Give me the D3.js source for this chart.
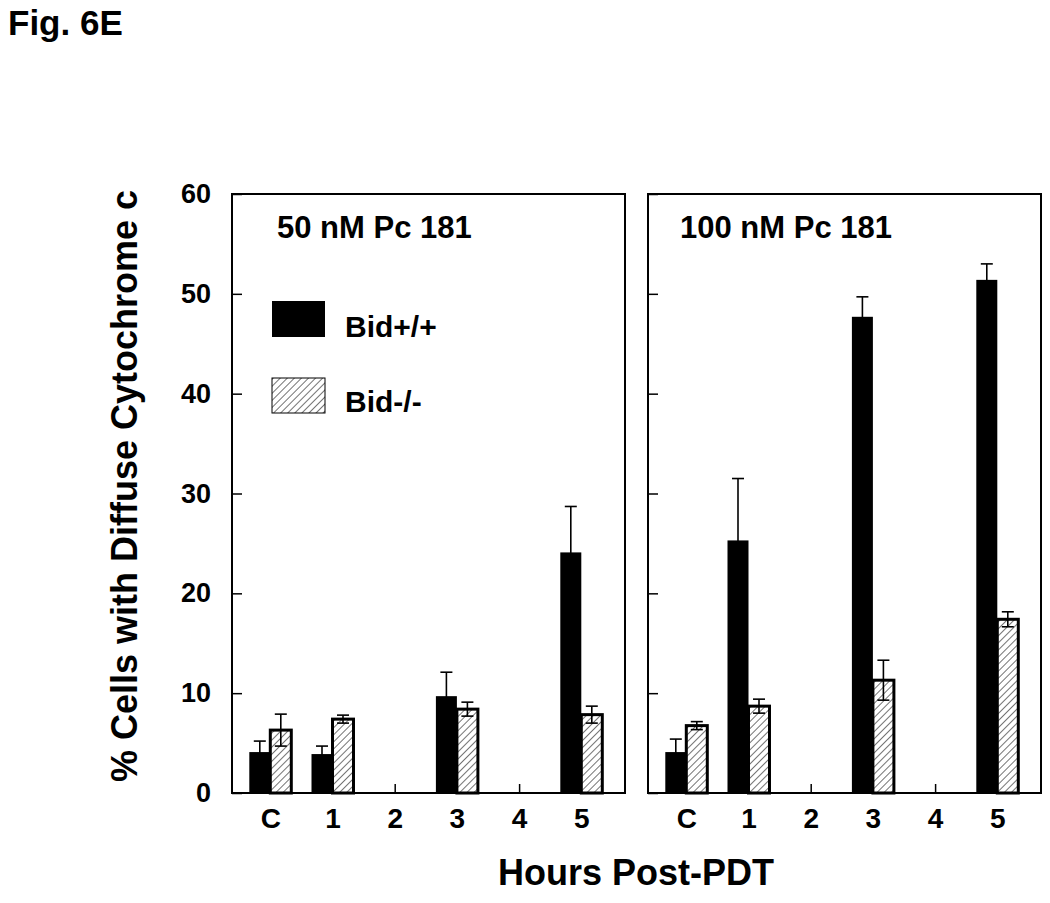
<!DOCTYPE html>
<html>
<head>
<meta charset="utf-8">
<script src="https://cdn.jsdelivr.net/npm/d3@7"></script>
<style>
  html, body { margin: 0; padding: 0; background: #fff; }
  svg { display: block; }
  text { font-family: Arial, "Liberation Sans", Helvetica, sans-serif; font-weight: bold; fill: #000; }
</style>
</head>
<body>
<svg id="chart" width="1050" height="903"></svg>
<script>
// ---- data ----
const categories = ["C", "1", "2", "3", "4", "5"];
const yTicks = [0, 10, 20, 30, 40, 50, 60];
const seriesNames = ["Bid+/+", "Bid-/-"];
const panelTitles = ["50 nM Pc 181", "100 nM Pc 181"];

const wt50 = [4.1, 3.9, null, 9.7, null, 24.1];
const wt50Err = [1.1, 0.8, null, 2.4, null, 4.6];
const ko50 = [6.3, 7.4, null, 8.4, null, 7.85];
const ko50Err = [1.6, 0.4, null, 0.7, null, 0.85];

const wt100 = [4.1, 25.3, null, 47.7, null, 51.4];
const wt100Err = [1.3, 6.2, null, 2.0, null, 1.6];
const ko100 = [6.75, 8.7, null, 11.3, null, 17.4];
const ko100Err = [0.4, 0.7, null, 2.0, null, 0.75];

const panels = [
  { title: panelTitles[0], wt: wt50, wtErr: wt50Err, ko: ko50, koErr: ko50Err, x0: 232, showLabels: true, legend: true },
  { title: panelTitles[1], wt: wt100, wtErr: wt100Err, ko: ko100, koErr: ko100Err, x0: 648, showLabels: false, legend: false }
];

// ---- layout ----
const svg = d3.select("#chart");
const panelW = 393;
const yTop = 194, yBot = 793;
const barW = 21;

const defs = svg.append("defs");
const pat = defs.append("pattern")
  .attr("id", "hatch")
  .attr("patternUnits", "userSpaceOnUse")
  .attr("width", 5).attr("height", 5)
  .attr("patternTransform", "rotate(45)");
pat.append("rect").attr("width", 5).attr("height", 5).attr("fill", "#fff");
pat.append("line").attr("x1", 0).attr("y1", 0).attr("x2", 0).attr("y2", 5)
  .attr("stroke", "#000").attr("stroke-width", 1.1);

const y = d3.scaleLinear().domain([0, 60]).range([yBot, yTop]);

svg.append("text").attr("x", 8).attr("y", 35).attr("font-size", 35).text("Fig. 6E");

panels.forEach(p => {
  const x = d3.scalePoint().domain(categories).range([p.x0 + 38.3, p.x0 + 349.3]);
  const g = svg.append("g");

  // frame
  g.append("rect").attr("x", p.x0).attr("y", yTop).attr("width", panelW).attr("height", yBot - yTop)
    .attr("fill", "none").attr("stroke", "#000").attr("stroke-width", 2);

  // y axis (ticks inward)
  const yAxis = d3.axisLeft(y).tickValues(yTicks).tickSize(-10).tickPadding(21)
    .tickFormat(p.showLabels ? d3.format("d") : () => "");
  const ya = g.append("g").attr("transform", `translate(${p.x0},0)`).call(yAxis);
  ya.select(".domain").remove();
  ya.selectAll("line").attr("stroke-width", 1.5);
  ya.selectAll("text").attr("font-size", 27).attr("font-family", null).attr("fill", "#000");

  // x axis (ticks inward)
  const xAxis = d3.axisBottom(x).tickSize(-9).tickPadding(15);
  const xa = g.append("g").attr("transform", `translate(0,${yBot})`).call(xAxis);
  xa.select(".domain").remove();
  xa.selectAll("line").attr("stroke-width", 1.5);
  xa.selectAll("text").attr("font-size", 28).attr("font-family", null).attr("fill", "#000");

  // bars
  const idx = categories.map((c, i) => i).filter(i => p.wt[i] != null);

  g.selectAll(".wt").data(idx).enter().append("rect")
    .attr("x", i => x(categories[i]) - barW)
    .attr("y", i => y(p.wt[i]))
    .attr("width", barW)
    .attr("height", i => y(0) - y(p.wt[i]))
    .attr("fill", "#000");

  g.selectAll(".ko").data(idx).enter().append("rect")
    .attr("x", i => x(categories[i]))
    .attr("y", i => y(p.ko[i]))
    .attr("width", barW)
    .attr("height", i => y(0) - y(p.ko[i]))
    .attr("fill", "url(#hatch)")
    .attr("stroke", "#000").attr("stroke-width", 3);

  // error bars
  const errs = [];
  idx.forEach(i => {
    errs.push({ cx: x(categories[i]) - barW / 2, v: p.wt[i], e: p.wtErr[i] });
    errs.push({ cx: x(categories[i]) + barW / 2, v: p.ko[i], e: p.koErr[i] });
  });
  const eg = g.selectAll(".err").data(errs).enter().append("g")
    .attr("stroke", "#000").attr("stroke-width", 1.6);
  eg.append("line").attr("x1", d => d.cx).attr("x2", d => d.cx)
    .attr("y1", d => y(d.v - d.e)).attr("y2", d => y(d.v + d.e));
  eg.append("line").attr("x1", d => d.cx - 6).attr("x2", d => d.cx + 6)
    .attr("y1", d => y(d.v + d.e)).attr("y2", d => y(d.v + d.e));
  eg.append("line").attr("x1", d => d.cx - 6).attr("x2", d => d.cx + 6)
    .attr("y1", d => y(d.v - d.e)).attr("y2", d => y(d.v - d.e));

  // panel title
  g.append("text").attr("x", p.x0 + (p.showLabels ? 45 : 32)).attr("y", 238)
    .attr("font-size", 31).text(p.title);

  // legend
  if (p.legend) {
    const lg = g.append("g");
    lg.append("rect").attr("x", 272).attr("y", 301).attr("width", 53).attr("height", 36).attr("fill", "#000");
    lg.append("rect").attr("x", 272).attr("y", 378).attr("width", 53).attr("height", 35)
      .attr("fill", "url(#hatch)").attr("stroke", "#000").attr("stroke-width", 1);
    lg.append("text").attr("x", 345).attr("y", 337).attr("font-size", 30).text(seriesNames[0]);
    lg.append("text").attr("x", 345).attr("y", 412).attr("font-size", 30).text(seriesNames[1]);
  }
});

// axis titles
svg.append("text").attr("x", 636).attr("y", 885).attr("text-anchor", "middle")
  .attr("font-size", 36).text("Hours Post-PDT");
svg.append("text").attr("transform", "translate(137,486) rotate(-90)").attr("text-anchor", "middle")
  .attr("font-size", 36).text("% Cells with Diffuse Cytochrome c");
</script>
</body>
</html>
